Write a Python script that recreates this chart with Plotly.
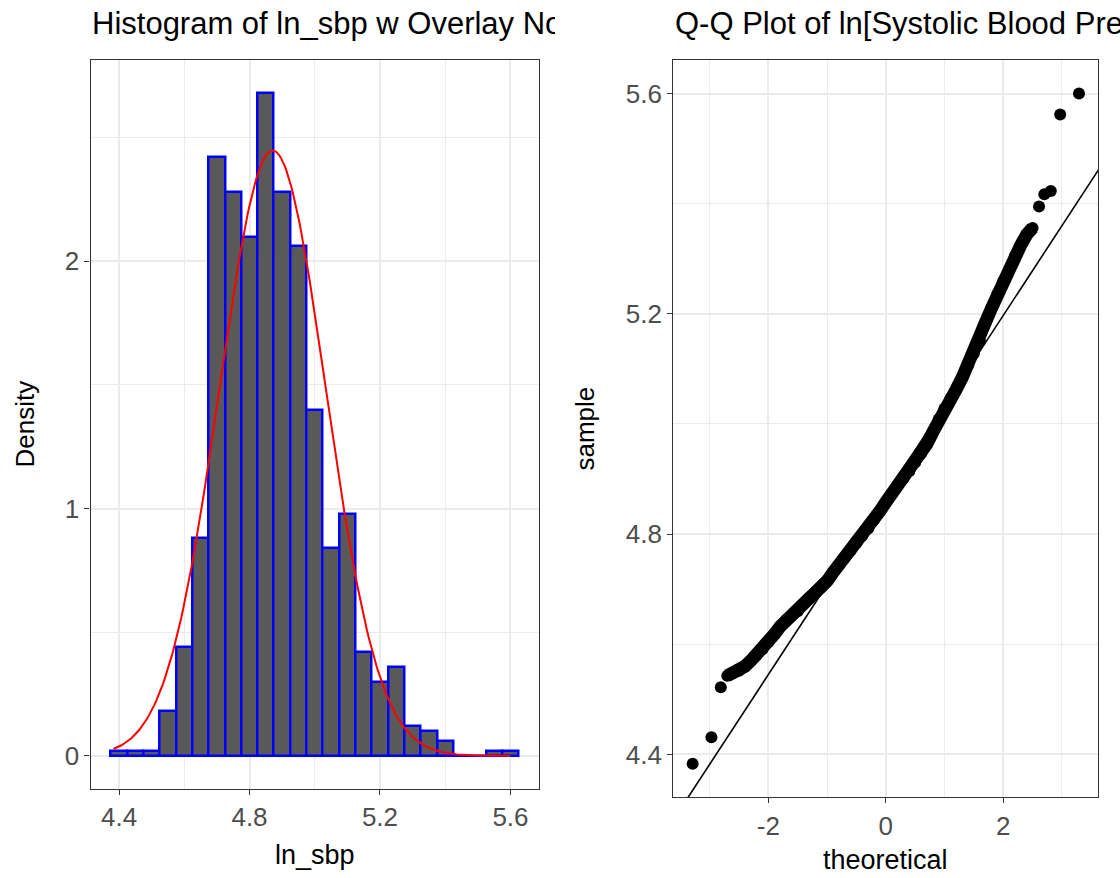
import numpy as np
import plotly.graph_objects as go

# ---------------- data ----------------
# Histogram of ln_sbp (binwidth 0.05), density per bin
bin_centers = [4.40, 4.45, 4.50, 4.55, 4.60, 4.65, 4.70, 4.75, 4.80, 4.85,
               4.90, 4.95, 5.00, 5.05, 5.10, 5.15, 5.20, 5.25, 5.30, 5.35,
               5.40, 5.45, 5.50, 5.55, 5.60]
bin_density = [0.02, 0.02, 0.02, 0.18, 0.44, 0.88, 2.42, 2.28, 2.10, 2.68,
               2.28, 2.06, 1.40, 0.84, 0.98, 0.42, 0.30, 0.36, 0.12, 0.10,
               0.06, 0.00, 0.00, 0.02, 0.02]
bin_width = 0.05

# Normal overlay parameters
norm_mean = 4.871
norm_sd = 0.163
data_min = 4.383
data_max = 5.600

# Q-Q plot: isolated tail points
qq_tail_theoretical = [-3.29, -2.97, -2.81, 2.61, 2.70, 2.81, 2.97, 3.29]
qq_tail_sample = [4.383, 4.431, 4.522, 5.395, 5.417, 5.423, 5.562, 5.600]

# Q-Q plot: dense central band of points
qq_band_theoretical = [-2.70, -2.60, -2.50, -2.40, -2.30, -2.20, -2.10, -2.00,
                       -1.90, -1.80, -1.70, -1.60, -1.50, -1.40, -1.30, -1.20,
                       -1.10, -1.00, -0.90, -0.80, -0.70, -0.60, -0.50, -0.40,
                       -0.30, -0.20, -0.10, 0.00, 0.10, 0.20, 0.30, 0.40,
                       0.50, 0.60, 0.70, 0.80, 0.90, 1.00, 1.10, 1.20,
                       1.30, 1.40, 1.50, 1.60, 1.70, 1.80, 1.90, 2.00,
                       2.10, 2.20, 2.30, 2.40, 2.50]
qq_band_sample = [4.543, 4.548, 4.552, 4.560, 4.570, 4.580, 4.591, 4.604,
                  4.618, 4.632, 4.644, 4.652, 4.660, 4.673, 4.684, 4.694,
                  4.703, 4.715, 4.730, 4.743, 4.757, 4.770, 4.784, 4.797,
                  4.810, 4.826, 4.842, 4.858, 4.873, 4.888, 4.901, 4.914,
                  4.930, 4.946, 4.964, 4.985, 5.008, 5.028, 5.046, 5.063,
                  5.084, 5.106, 5.128, 5.152, 5.185, 5.210, 5.236, 5.259,
                  5.280, 5.305, 5.325, 5.344, 5.356]

# Reference line
qq_intercept = 4.871
qq_slope = 0.163

title_left = "Histogram of ln_sbp w Overlay Normal"
title_right = "Q-Q Plot of ln[Systolic Blood Pressure]"

# ---------------- layout geometry ----------------
W, H = 1120, 878
FONT = "Liberation Sans, Arial, Helvetica, sans-serif"

def px(x):
    return x / W

def py(y):
    return 1 - y / H

left_dom_x = [px(90.5), px(539)]
left_dom_y = [py(789), py(60)]
right_dom_x = [px(673.3), px(1098.3)]
right_dom_y = [py(797.3), py(60)]

# axis ranges (ggplot 5% expansion)
hx0 = bin_centers[0] - bin_width / 2
hx1 = bin_centers[-1] + bin_width / 2
hxr = [hx0 - 0.05 * (hx1 - hx0), hx1 + 0.05 * (hx1 - hx0)]
hymax = max(bin_density)
hyr = [-0.05 * hymax, 1.05 * hymax]

all_t = qq_tail_theoretical + qq_band_theoretical
all_s = qq_tail_sample + qq_band_sample
tmin, tmax = min(all_t), max(all_t)
smin, smax = min(all_s), max(all_s)
qxr = [tmin - 0.05 * (tmax - tmin), tmax + 0.05 * (tmax - tmin)]
qyr = [smin - 0.05 * (smax - smin), smax + 0.05 * (smax - smin)]

fig = go.Figure()

# histogram bars
fig.add_trace(go.Bar(
    x=bin_centers, y=bin_density, width=bin_width,
    marker=dict(color="#595959", line=dict(color="#0000FF", width=2.5)),
    xaxis="x", yaxis="y", showlegend=False, hoverinfo="x+y"))

# normal density overlay
xc = np.linspace(data_min, data_max, 300)
yc = np.exp(-0.5 * ((xc - norm_mean) / norm_sd) ** 2) / (norm_sd * np.sqrt(2 * np.pi))
fig.add_trace(go.Scatter(
    x=xc, y=yc, mode="lines", line=dict(color="#FF0000", width=2),
    xaxis="x", yaxis="y", showlegend=False, hoverinfo="skip"))

# Q-Q band
fig.add_trace(go.Scatter(
    x=qq_band_theoretical, y=qq_band_sample, mode="lines+markers",
    line=dict(color="black", width=13),
    marker=dict(color="black", size=12),
    xaxis="x2", yaxis="y2", showlegend=False))
# Q-Q tails
fig.add_trace(go.Scatter(
    x=qq_tail_theoretical, y=qq_tail_sample, mode="markers",
    marker=dict(color="black", size=12),
    xaxis="x2", yaxis="y2", showlegend=False))
# reference line
lx = np.array(qxr)
fig.add_trace(go.Scatter(
    x=lx, y=qq_intercept + qq_slope * lx, mode="lines",
    line=dict(color="black", width=1.6),
    xaxis="x2", yaxis="y2", showlegend=False, hoverinfo="skip"))

GRID = "#EBEBEB"
axis_common = dict(
    showline=True, mirror=True, linecolor="#333333", linewidth=1.3,
    ticks="outside", ticklen=5, tickwidth=1.3, tickcolor="#333333",
    tickfont=dict(family=FONT, size=26, color="#4D4D4D"),
    showgrid=True, gridcolor=GRID, gridwidth=1.8, zeroline=False,
    fixedrange=True,
)

def minor(vals):
    return dict(tickmode="array", tickvals=vals, showgrid=True,
                gridcolor=GRID, gridwidth=0.9, ticks="")

fig.update_layout(
    width=W, height=H,
    margin=dict(l=0, r=0, t=0, b=0),
    paper_bgcolor="white", plot_bgcolor="white",
    bargap=0,
    xaxis=dict(domain=left_dom_x, range=hxr, anchor="y",
               tickmode="array", tickvals=[4.4, 4.8, 5.2, 5.6],
               ticktext=["4.4", "4.8", "5.2", "5.6"],
               minor=minor([4.6, 5.0, 5.4]), **axis_common),
    yaxis=dict(domain=left_dom_y, range=hyr, anchor="x",
               tickmode="array", tickvals=[0, 1, 2], ticktext=["0", "1", "2"],
               minor=minor([0.5, 1.5, 2.5]), **axis_common),
    xaxis2=dict(domain=right_dom_x, range=qxr, anchor="y2",
                tickmode="array", tickvals=[-2, 0, 2], ticktext=["-2", "0", "2"],
                minor=minor([-3, -1, 1, 3]), **axis_common),
    yaxis2=dict(domain=right_dom_y, range=qyr, anchor="x2",
                tickmode="array", tickvals=[4.4, 4.8, 5.2, 5.6],
                ticktext=["4.4", "4.8", "5.2", "5.6"],
                minor=minor([4.6, 5.0, 5.4]), **axis_common),
)

ann = []
# titles (left one clipped at its cell edge like the reference)
ann.append(dict(text=title_left, x=px(90), y=py(24), xref="paper", yref="paper",
                xanchor="left", yanchor="middle", showarrow=False, align="left",
                width=463, font=dict(family=FONT, size=31, color="black")))
ann.append(dict(text=title_right, x=px(673), y=py(24), xref="paper", yref="paper",
                xanchor="left", yanchor="middle", showarrow=False, align="left",
                font=dict(family=FONT, size=31, color="black")))
# axis titles
ann.append(dict(text="ln_sbp", x=px(314.75), y=py(855), xref="paper", yref="paper",
                xanchor="center", yanchor="middle", showarrow=False,
                font=dict(family=FONT, size=27, color="black")))
ann.append(dict(text="theoretical", x=px(885.8), y=py(860), xref="paper", yref="paper",
                xanchor="center", yanchor="middle", showarrow=False,
                font=dict(family=FONT, size=27, color="black")))
ann.append(dict(text="Density", x=px(25), y=py(424.5), xref="paper", yref="paper",
                xanchor="center", yanchor="middle", showarrow=False, textangle=-90,
                font=dict(family=FONT, size=26, color="black")))
ann.append(dict(text="sample", x=px(585), y=py(428.5), xref="paper", yref="paper",
                xanchor="center", yanchor="middle", showarrow=False, textangle=-90,
                font=dict(family=FONT, size=26, color="black")))
fig.update_layout(annotations=ann)

fig.write_html("out.html")
